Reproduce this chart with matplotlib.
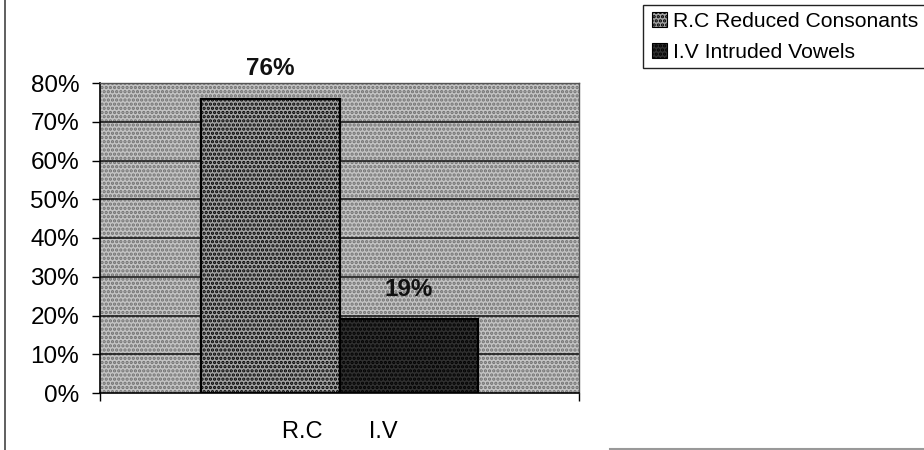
import matplotlib
matplotlib.use("Agg")
import matplotlib.pyplot as plt
from matplotlib.patches import Rectangle
from matplotlib.lines import Line2D

series_codes = ["R.C", "I.V"]
series_names = ["R.C Reduced Consonants", "I.V Intruded Vowels"]
values = [76, 19]
value_labels = ["76%", "19%"]
yticks = [0, 10, 20, 30, 40, 50, 60, 70, 80]
ytick_labels = ["0%", "10%", "20%", "30%", "40%", "50%", "60%", "70%", "80%"]

plt.rcParams['font.family'] = ['Liberation Sans', 'DejaVu Sans']
plt.rcParams['hatch.linewidth'] = 1.6

W, H = 924, 450
fig = plt.figure(figsize=(W / 100, H / 100), dpi=100)
fig.patch.set_facecolor('white')

L, R, T, B = 100, 579, 83, 393
ax = fig.add_axes([L / W, 1 - B / H, (R - L) / W, (B - T) / H])

bar_colors = ['#a2a2a2', '#303030']
bar_hatch_colors = ['#6a6a6a', '#1c1c1c']
xpos = [-0.5, 0.5]
half = 1.735
ax.set_xlim(-half, half)
ax.set_ylim(0, 80)

# plot area patterned background
bg = Rectangle((0, 0), 1, 1, transform=ax.transAxes, facecolor='#c4c4c4',
               edgecolor='#707070', hatch='....', lw=0, zorder=0)
ax.add_patch(bg)
ax.set_facecolor('none')

# gridlines
for y in yticks[1:]:
    ax.axhline(y, color='#111111', lw=1.1, zorder=1)

bars = ax.bar(xpos, values, width=1.0, color=bar_colors, edgecolor='black',
              linewidth=1.6, zorder=2)
for b, hc in zip(bars, bar_hatch_colors):
    b.set_hatch('....')
    b._hatch_color = matplotlib.colors.to_rgba(hc)
    b.set_edgecolor('black')

for x, v, lab in zip(xpos, values, value_labels):
    ax.annotate(lab, (x, v), xytext=(0, 13), textcoords='offset points',
                ha='center', va='bottom', fontsize=17.5, fontweight='bold',
                color='#111111', zorder=5)

ax.set_yticks(yticks)
ax.set_yticklabels(ytick_labels, fontsize=17.5)
ax.tick_params(axis='y', direction='out', length=6, width=1, pad=9, colors='black')

ax.set_xticks([0])
ax.set_xticklabels(['       '.join(series_codes)], fontsize=17)
ax.tick_params(axis='x', length=0, pad=20)
ax.set_xticks([-half, half], minor=True)
ax.tick_params(axis='x', which='minor', direction='out', length=6, width=1)

for s in ['top', 'right']:
    ax.spines[s].set_color('#555555')
    ax.spines[s].set_linewidth(1)
for s in ['left', 'bottom']:
    ax.spines[s].set_color('black')
    ax.spines[s].set_linewidth(1.2)

# legend (box extends past the right edge of the figure)
fig.add_artist(Rectangle((643 / W, 1 - 68 / H), 300 / W, 63 / H, transform=fig.transFigure,
                         facecolor='white', edgecolor='#222222', lw=1.0))
handles = [Rectangle((0, 0), 1, 1, facecolor=c, edgecolor='black', hatch='....', lw=0.8)
           for c in bar_colors]
leg = fig.legend(handles, series_names, loc='upper left',
                 bbox_to_anchor=(652 / W, 1 - 12 / H), frameon=False,
                 fontsize=15.2, handlelength=0.7, handleheight=0.7,
                 handletextpad=0.3, labelspacing=0.55, borderpad=0, borderaxespad=0)

# outer border lines of the original figure
fig.add_artist(Line2D([5 / W, 5 / W], [0, 1], transform=fig.transFigure, color='#444444', lw=1.2))
fig.add_artist(Line2D([610 / W, 1], [1.5 / H, 1.5 / H], transform=fig.transFigure, color='#999999', lw=1.5))

fig.savefig('out.png', dpi=100)
